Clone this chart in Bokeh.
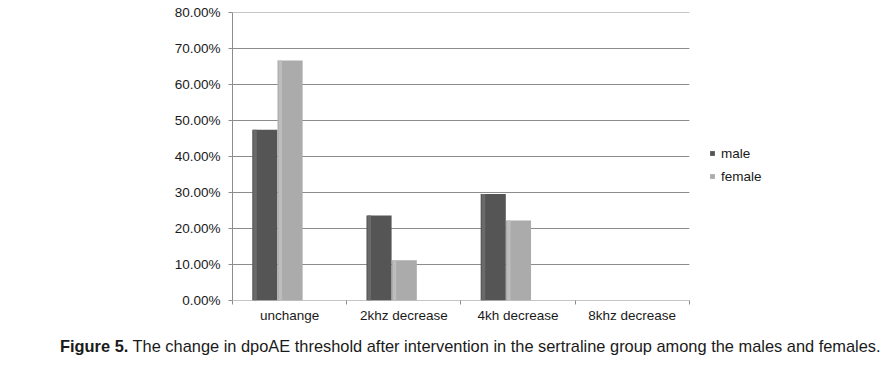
from bokeh.plotting import figure
from bokeh.models import (Range1d, LinearAxis, FixedTicker, Div,
                          NumeralTickFormatter, Legend, LegendItem, ColumnDataSource)
from bokeh.layouts import column
from bokeh.embed import file_html
from bokeh.resources import INLINE

categories = ["unchange", "2khz decrease", "4kh decrease", "8khz decrease"]
male = [0.474, 0.236, 0.296, 0.0]
female = [0.667, 0.112, 0.222, 0.0]
y_ticks = [0.0, 0.1, 0.2, 0.3, 0.4, 0.5, 0.6, 0.7, 0.8]
caption_bold = "Figure 5."
caption_text = "The change in dpoAE threshold after intervention in the sertraline group among the males and females."

FONT = "Liberation Sans"
n = len(categories)
centers = [i + 0.5 for i in range(n)]
M_OFF, F_OFF, BW = -0.217, 0.004, 0.22
X_END = 5.63  # frame extends to the right to host the legend

src = ColumnDataSource(dict(
    xm=[c + M_OFF for c in centers], xf=[c + F_OFF for c in centers],
    xmh=[c + M_OFF - 0.085 for c in centers], xfh=[c + F_OFF - 0.085 for c in centers],
    male=male, female=female))

p = figure(width=875, height=330, x_range=Range1d(0, X_END),
           y_range=Range1d(0, 0.8), output_backend="svg", toolbar_location=None,
           min_border_left=232, min_border_right=0, min_border_top=12, min_border_bottom=30,
           x_axis_location=None)
p.outline_line_color = None
p.xgrid.grid_line_color = None
p.ygrid.grid_line_color = None

# horizontal gridlines spanning only the category area
p.segment(x0=[0] * len(y_ticks), x1=[n] * len(y_ticks), y0=y_ticks, y1=y_ticks,
          line_color="#8c8c8c", line_width=1)

rm = p.vbar(x="xm", top="male", width=BW, source=src,
            fill_color="#555555", line_color=None)
rf = p.vbar(x="xf", top="female", width=BW, source=src,
            fill_color="#ababab", line_color=None)
p.vbar(x="xmh", top="male", width=0.03, source=src, fill_color="#6a6a6a", line_color=None)
p.vbar(x="xfh", top="female", width=0.03, source=src, fill_color="#bdbdbd", line_color=None)

# y axis
p.yaxis.ticker = FixedTicker(ticks=y_ticks)
p.yaxis.formatter = NumeralTickFormatter(format="0.00%")
p.yaxis.major_label_text_font = FONT
p.yaxis.major_label_text_font_size = "13.5px"
p.yaxis.major_label_text_color = "#1a1a1a"
p.yaxis.axis_line_color = "#8c8c8c"
p.yaxis.major_tick_line_color = "#8c8c8c"
p.yaxis.major_tick_out = 4
p.yaxis.major_tick_in = 0
p.yaxis.minor_tick_line_color = None
p.yaxis.major_label_standoff = 8

# boundary tick axis (nearest to frame)
tick_axis = LinearAxis(ticker=FixedTicker(ticks=list(range(n + 1))),
                       major_label_overrides={i: "" for i in range(n + 1)},
                       axis_line_color=None, major_tick_line_color="#8c8c8c",
                       major_tick_out=4, major_tick_in=0, minor_tick_line_color=None,
                       major_label_text_font_size="1px", major_label_standoff=0)
# category label axis
label_axis = LinearAxis(ticker=FixedTicker(ticks=centers),
                        major_label_overrides={c: cat for c, cat in zip(centers, categories)},
                        axis_line_color=None, major_tick_line_color=None, minor_tick_line_color=None,
                        major_label_text_font=FONT, major_label_text_font_size="13.5px",
                        major_label_text_color="#1a1a1a", major_label_standoff=-3)
p.add_layout(tick_axis, "below")
p.add_layout(label_axis, "below")

legend = Legend(items=[LegendItem(label="male", renderers=[rm]),
                       LegendItem(label="female", renderers=[rf])],
                location=(477, 116), orientation="vertical",
                border_line_color=None, background_fill_alpha=0,
                glyph_width=6, glyph_height=6, label_text_font=FONT,
                label_text_font_size="13.5px", label_text_color="#1a1a1a",
                label_height=16, spacing=7, padding=0, margin=0, label_standoff=6)
p.add_layout(legend, "center")

caption = Div(text=(f'<div style="padding-left:55px;font-family:\'Liberation Sans\',Arial,sans-serif;'
                    f'font-size:16.4px;line-height:22px;color:#1a1a1a;white-space:nowrap">'
                    f'<b>{caption_bold}</b> {caption_text}</div>'),
              width=875, height=22)

layout = column(p, caption, spacing=0)
open("out.html", "w").write(file_html(layout, INLINE))
